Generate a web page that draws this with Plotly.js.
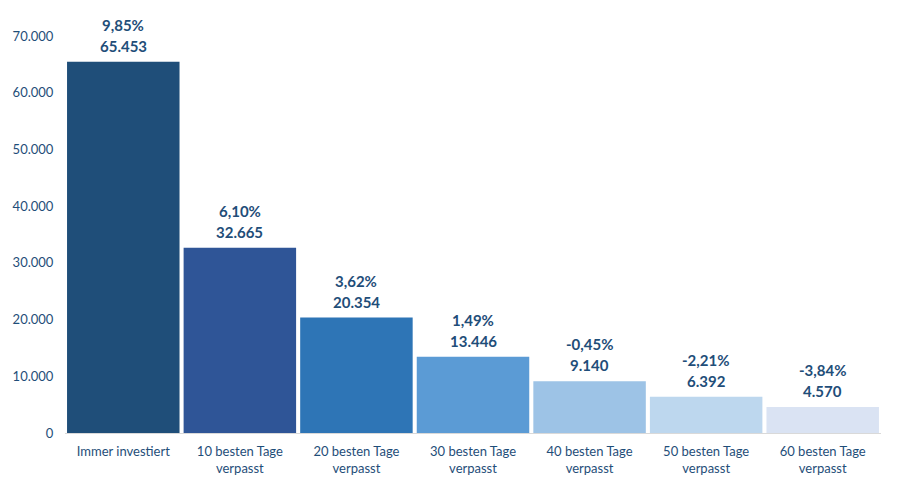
<!DOCTYPE html>
<html>
<head>
<meta charset="utf-8">
<script src="https://cdn.plot.ly/plotly-3.0.1.min.js"></script>
<style>html,body{margin:0;padding:0;background:#fff;}#chart{width:899px;height:501px;}</style>
</head>
<body>
<div id="chart"></div>
<script>
const categories = ["Immer investiert", "10 besten Tage<br>verpasst", "20 besten Tage<br>verpasst", "30 besten Tage<br>verpasst", "40 besten Tage<br>verpasst", "50 besten Tage<br>verpasst", "60 besten Tage<br>verpasst"];
const values = [65453, 32665, 20354, 13446, 9140, 6392, 4570];
const valueLabels = ["65.453", "32.665", "20.354", "13.446", "9.140", "6.392", "4.570"];
const returns = ["9,85%", "6,10%", "3,62%", "1,49%", "-0,45%", "-2,21%", "-3,84%"];
const barColors = ["#1f4e79", "#2f5597", "#2e75b6", "#5b9bd5", "#9dc3e6", "#bdd7ee", "#dae3f3"];
const tickVals = [0, 10000, 20000, 30000, 40000, 50000, 60000, 70000];
const tickText = ["0", "10.000", "20.000", "30.000", "40.000", "50.000", "60.000", "70.000"];

const textColor = "#1f4e79";
const font = "Lato, 'Open Sans', sans-serif";

const annotations = [];
categories.forEach((c, i) => {
  annotations.push({
    x: c, y: values[i], xref: "x", yref: "y",
    text: "<b>" + valueLabels[i] + "</b>",
    showarrow: false, yanchor: "middle", yshift: 16,
    font: {family: font, size: 15, color: textColor}
  });
  annotations.push({
    x: c, y: values[i], xref: "x", yref: "y",
    text: "<b>" + returns[i] + "</b>",
    showarrow: false, yanchor: "middle", yshift: 37,
    font: {family: font, size: 15, color: textColor}
  });
});

Plotly.newPlot("chart", [{
  type: "bar",
  x: categories,
  y: values,
  marker: {color: barColors},
  hoverinfo: "none",
  cliponaxis: false
}], {
  width: 899, height: 501,
  margin: {l: 65, r: 18, t: 36, b: 68},
  paper_bgcolor: "#fff", plot_bgcolor: "#fff",
  bargap: 0.035,
  showlegend: false,
  xaxis: {
    tickfont: {family: font, size: 13, color: textColor},
    showline: true, linecolor: "#d9d9d9", linewidth: 1,
    ticks: "outside", ticklen: 6, tickcolor: "rgba(0,0,0,0)",
    showgrid: false, zeroline: false, automargin: false
  },
  yaxis: {
    range: [0, 70000],
    tickvals: tickVals, ticktext: tickText,
    tickfont: {family: font, size: 13, color: textColor},
    showgrid: false, zeroline: false, showline: false,
    ticks: "outside", ticklen: 8, tickcolor: "rgba(0,0,0,0)", automargin: false
  },
  annotations: annotations
}, {displayModeBar: false, staticPlot: true});
</script>
</body>
</html>
